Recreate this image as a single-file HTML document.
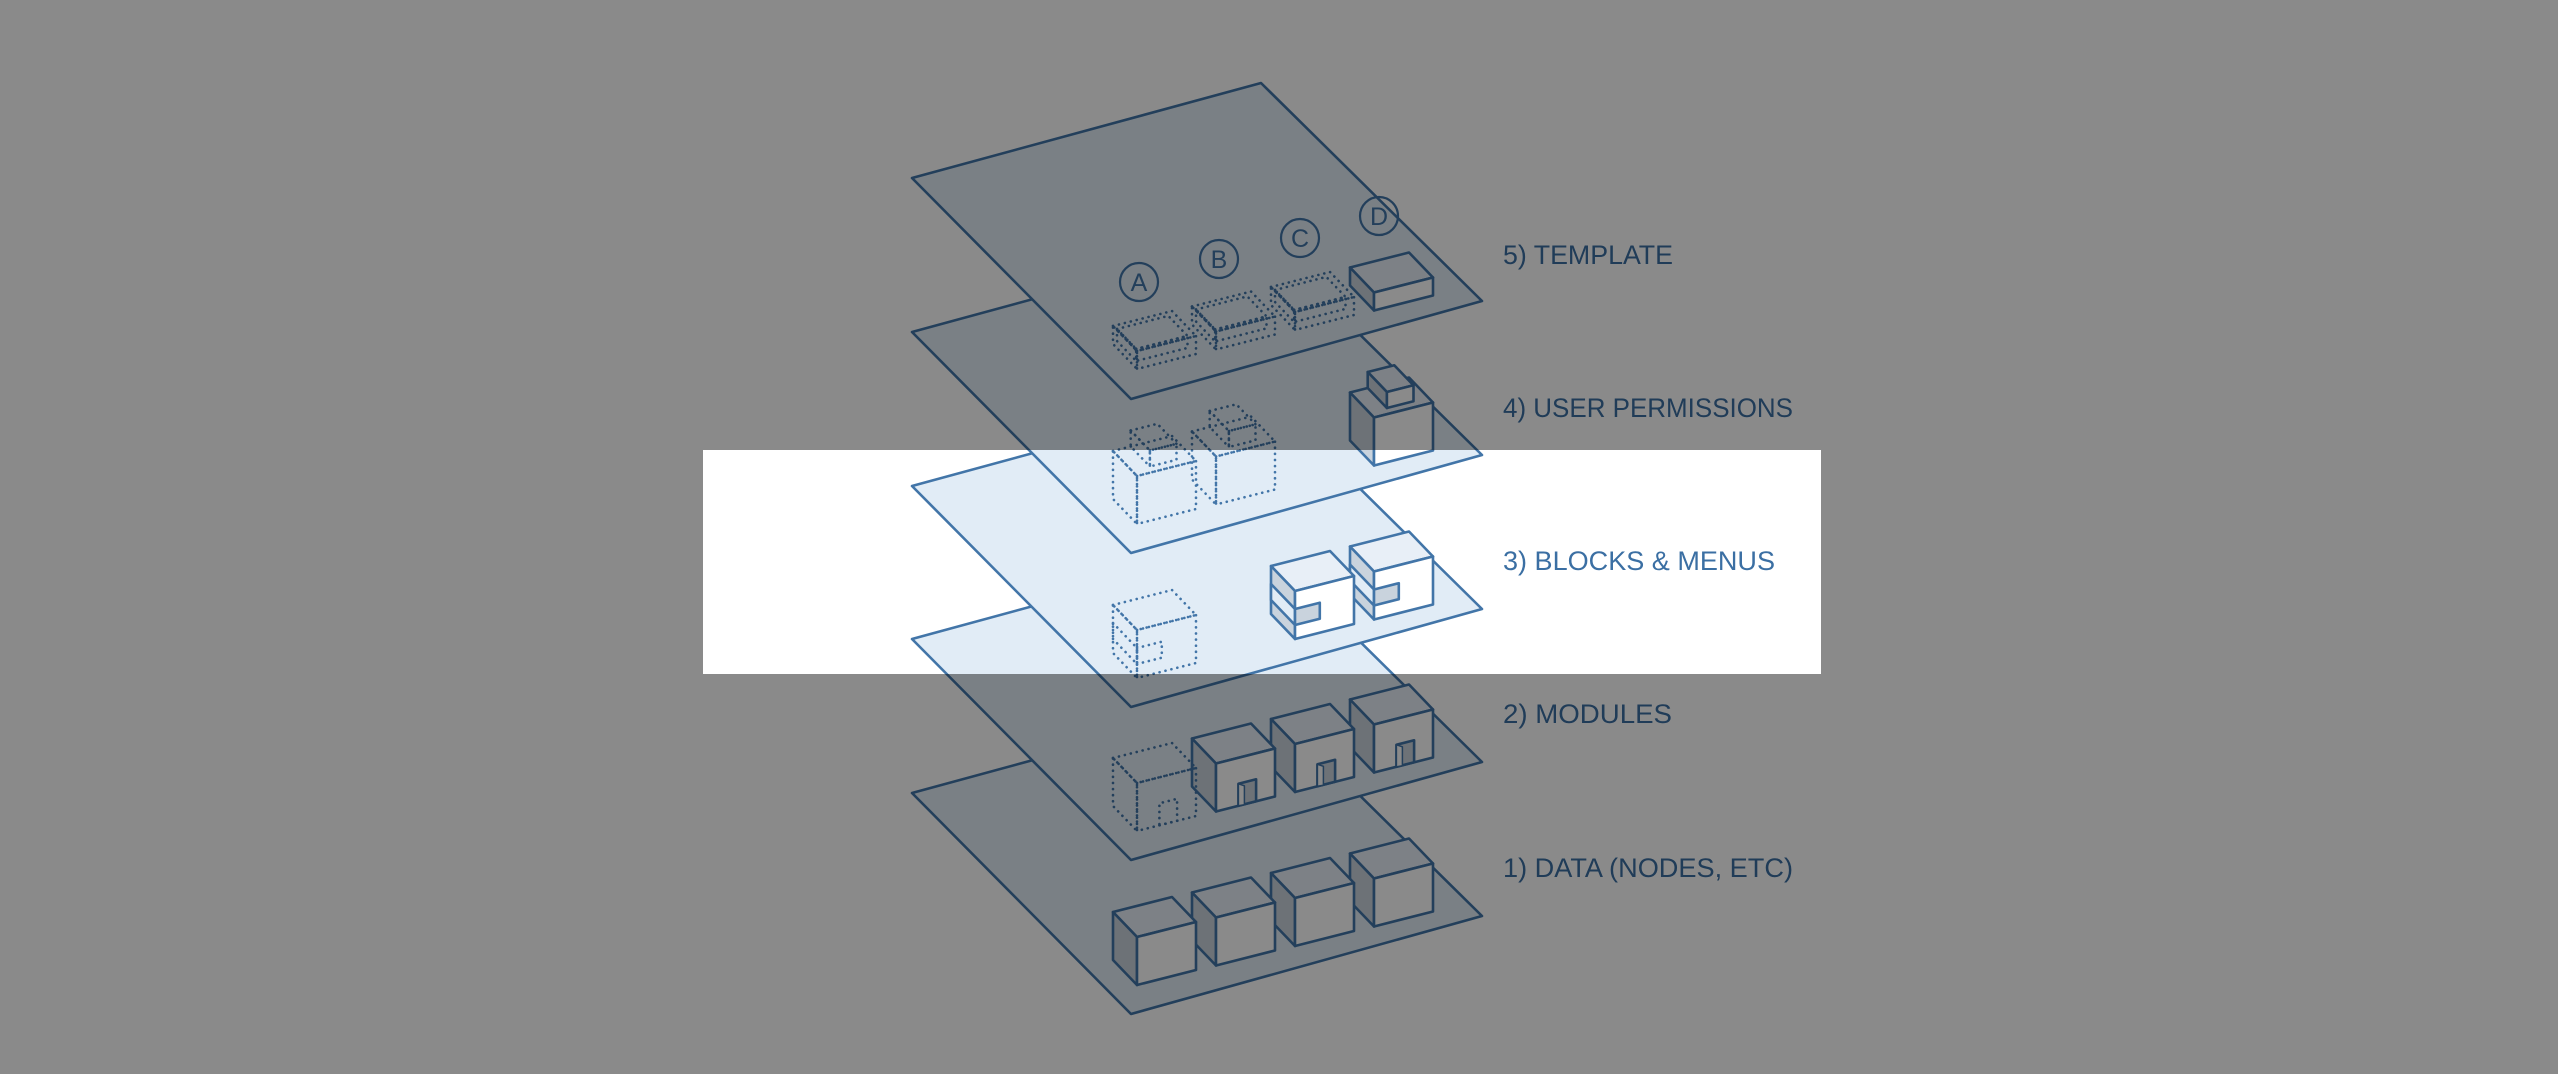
<!DOCTYPE html>
<html><head><meta charset="utf-8"><style>
html,body{margin:0;padding:0;background:#fff;}
svg{display:block;}
</style></head><body>
<svg id="s" width="2558" height="1074" viewBox="0 0 2558 1074" xmlns="http://www.w3.org/2000/svg">
<rect width="2558" height="1074" fill="#ffffff"/>
<g id="scene" stroke-linejoin="round"></g>
<g font-family="Liberation Sans, sans-serif" font-size="27" fill="#3b6fa3">
<text x="1503" y="264" textLength="170" lengthAdjust="spacingAndGlyphs">5) TEMPLATE</text>
<text x="1503" y="417" textLength="290" lengthAdjust="spacingAndGlyphs">4) USER PERMISSIONS</text>
<text x="1503" y="570" textLength="272" lengthAdjust="spacingAndGlyphs">3) BLOCKS &amp; MENUS</text>
<text x="1503" y="723" textLength="169" lengthAdjust="spacingAndGlyphs">2) MODULES</text>
<text x="1503" y="877" textLength="290" lengthAdjust="spacingAndGlyphs">1) DATA (NODES, ETC)</text>
</g>
<g fill="rgba(0,0,0,0.46)">
<rect x="0" y="0" width="2558" height="450"/>
<rect x="0" y="674" width="2558" height="400"/>
<rect x="0" y="450" width="703" height="224"/>
<rect x="1821" y="450" width="737" height="224"/>
</g>
</svg>
<script>
(function(){
var g=document.getElementById('scene');
var NS='http://www.w3.org/2000/svg';
var S='#4275a8', PF='#e1ecf6', TOP='#e8eff7', FR='#ffffff', LF='#c9d3dd';
function el(t,a){var e=document.createElementNS(NS,t);for(var k in a)e.setAttribute(k,a[k]);g.appendChild(e);return e;}
function ps(arr){return arr.map(function(p){return p[0].toFixed(1)+','+p[1].toFixed(1)}).join(' ');}
function add(a,b){return [a[0]+b[0],a[1]+b[1]];}
function sc(v,s){return [v[0]*s,v[1]*s];}
function poly(arr,fill,dot,sw){
  var a={points:ps(arr),fill:dot?'none':fill,stroke:S,'stroke-width':sw||2.6};
  if(dot){a['stroke-dasharray']='0.1 6';a['stroke-linecap']='round';a['stroke-width']=2.6;}
  el('polygon',a);
}
var W=[59,-15],D=[24,25];
function cube(A,h,dot,w,d){
  w=w||W;d=d||D;var H=[0,h];
  var A1=add(A,d),A2=add(A1,w),A3=add(A,w);
  poly([A,A3,A2,A1],TOP,dot);
  poly([A,A1,add(A1,H),add(A,H)],LF,dot);
  poly([A1,A2,add(A2,H),add(A1,H)],FR,dot);
}
function module(A,dot){
  cube(A,48,dot);
  var B=add(add(A,D),[0,48]);
  var n1=add(B,sc(W,0.38)),n2=add(B,sc(W,0.68));
  poly([n1,n2,add(n2,[0,-22]),add(n1,[0,-22])],LF,dot);
  if(!dot){el('polygon',{points:ps([add(n1,[0,-22]),add(n1,[6,-20]),add(n1,[6,-1]),n1]),fill:'#ffffff',stroke:S,'stroke-width':1.5});}
}
function block(A,dot){
  cube(A,48,dot);
  var B=add(A,[0,48]),F=add(add(A,D),[0,48]);
  poly([add(B,[0,-30]),add(F,[0,-30]),add(F,[0,-14]),add(B,[0,-14])],PF,dot);
  var f1=add(F,[0,-30]),f2=add(f1,sc(W,0.42));
  poly([f1,f2,add(f2,[0,16]),add(f1,[0,16])],LF,dot);
}
function step(A,dot){
  cube(A,48,dot);
  var T=add(add(A,sc(W,0.3)),[0,-16]);
  cube(T,16,dot,sc(W,0.45),sc(D,0.8));
}
function slab(A,dot){
  var B=add(A,[0,29]);
  cube(B,18,dot);
  if(dot){cube(add(B,[4,3]),12,true,sc(W,0.87),sc(D,0.8));}
}
var Ly=[793,639,486,332,178];
function pos(k,i){return [1113+79*i, Ly[k]+119-19.5*i];}
for(var k=0;k<5;k++){
  var y=Ly[k];
  poly([[912,y],[1261,y-95],[1482,y+123],[1131,y+221]],PF,false,2.6);
  for(var i=3;i>=0;i--){
    var A=pos(k,i);
    if(k==0)cube(A,48,false);
    if(k==1)module(A,i==0);
    if(k==2){if(i==0)block(A,true);if(i>=2)block(A,false);}
    if(k==3){if(i<=1)step(A,true);if(i==3)step(A,false);}
    if(k==4){if(i<=2)slab(A,true);if(i==3)slab(A,false);}
  }
}
var L=[['A',1139,282],['B',1219,259],['C',1300,238],['D',1379,216]];
L.forEach(function(c){
  el('circle',{cx:c[1],cy:c[2],r:19,fill:'none',stroke:S,'stroke-width':2.2});
  var t=el('text',{x:c[1],y:c[2]+9,'text-anchor':'middle','font-family':'Liberation Sans, sans-serif','font-size':25,fill:S});
  t.textContent=c[0];
});
})();
</script>
</body></html>
